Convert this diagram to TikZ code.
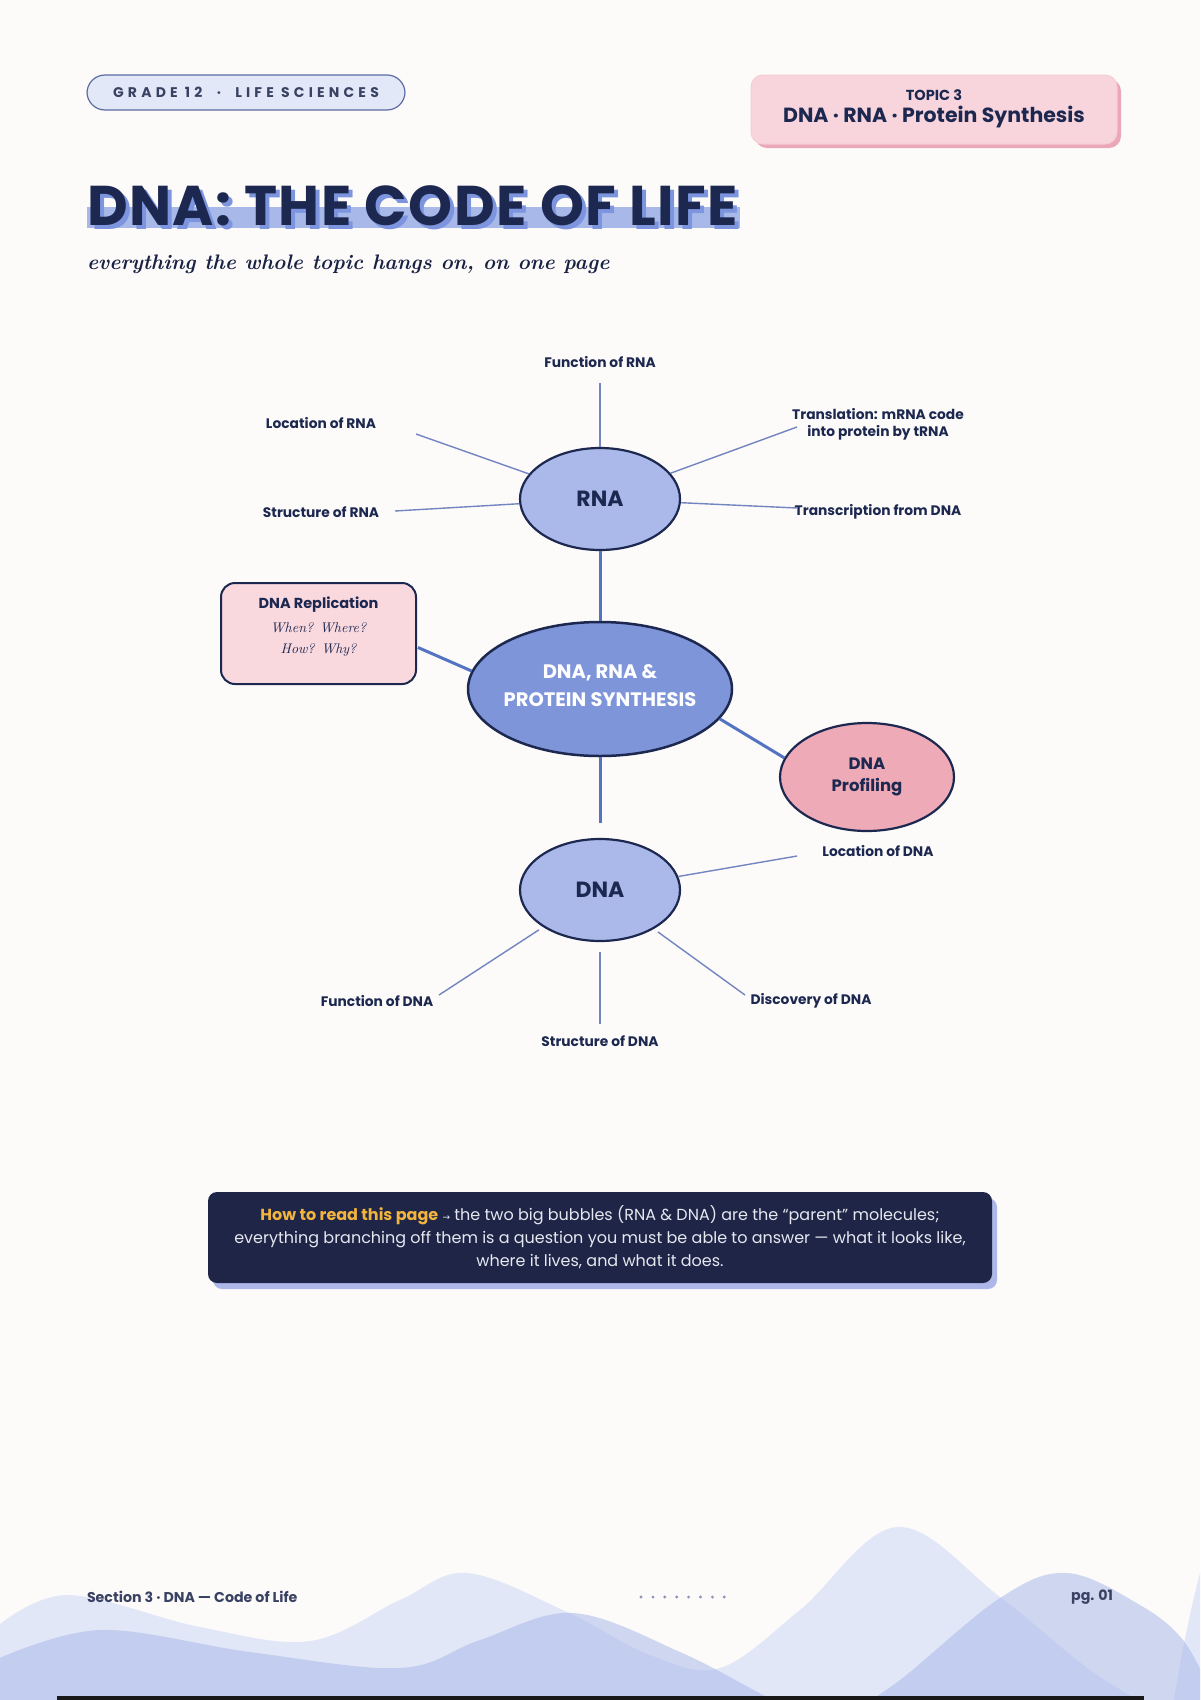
\documentclass[tikz,border=0pt]{standalone}
\usepackage{fontspec}
\setmainfont{Poppins}
\newfontfamily\scriptf{lmroman10-bolditalic.otf}
\newfontfamily\scriptr{lmroman10-italic.otf}
\newfontfamily\arrowf{DejaVu Sans}
\usetikzlibrary{shapes.geometric,calc}
\definecolor{bg}{HTML}{FCFBF9}
\definecolor{navy}{HTML}{1D2850}
\definecolor{ink}{HTML}{3A4263}
\definecolor{bubble}{HTML}{AAB9EA}
\definecolor{corefill}{HTML}{7F95D9}
\definecolor{proffill}{HTML}{EEAAB7}
\definecolor{replfill}{HTML}{F9D8DE}
\definecolor{link}{HTML}{5473C2}
\definecolor{spoke}{HTML}{7385C0}
\definecolor{pillfill}{HTML}{E3E8F8}
\definecolor{pillline}{HTML}{5D6BA3}
\definecolor{topicfill}{HTML}{F8D5DD}
\definecolor{topicshadow}{HTML}{E9A7B7}
\definecolor{titlebar}{HTML}{A8B8E9}
\definecolor{titleshadow}{HTML}{7C95DE}
\definecolor{howfill}{HTML}{1E2547}
\definecolor{howshadow}{HTML}{AEB8E8}
\definecolor{howkey}{HTML}{F2B43C}
\definecolor{howtext}{HTML}{E6E8F0}
\definecolor{wavelight}{HTML}{CAD5F7}
\definecolor{wavedark}{HTML}{ABB8E9}
\definecolor{dotc}{HTML}{8C95B9}
\newcommand\mytitle{DNA: THE CODE OF LIFE}
\begin{document}
\begin{tikzpicture}[x=1pt,y=-1pt,
  txt/.style={inner sep=0pt,outer sep=0pt},
  bubblenode/.style={ellipse,draw=navy,line width=2.2pt,fill=bubble,inner sep=0pt,
     minimum width=160pt,minimum height=102pt,text=navy,font=\bfseries\fontsize{22}{26}\selectfont},
  corenode/.style={ellipse,draw=navy,line width=2.5pt,fill=corefill,inner sep=0pt,
     minimum width=264pt,minimum height=134pt},
  coretext/.style={txt,text=white,align=center,font=\bfseries\fontsize{19.5}{28}\selectfont},
  profnode/.style={ellipse,draw=navy,line width=2.2pt,fill=proffill,inner sep=0pt,
     minimum width=174pt,minimum height=108pt},
  proftext/.style={txt,text=navy,align=center,font=\bfseries\fontsize{16.5}{22.5}\selectfont},
  replnode/.style={rectangle,rounded corners=14pt,draw=navy,line width=2pt,fill=replfill,inner sep=0pt,
     minimum width=195pt,minimum height=101pt},
  biglink/.style={draw=link,line width=3pt},
  spokeline/.style={draw=spoke,line width=1.4pt},
  lab/.style={txt,text=navy,align=center,font=\bfseries\fontsize{13.8}{17}\selectfont},
]
% page
\useasboundingbox (0,0) rectangle (1200,1700);
\fill[bg] (0,0) rectangle (1200,1700);

% waves
\begin{scope}
\clip (0,0) rectangle (1200,1700);
\fill[wavelight,opacity=0.5] (-5,1712) -- plot[smooth,tension=0.6] coordinates {(-5,1628) (67,1595) (200,1627) (310,1641) (400,1600) (467,1573) (567,1612) (650,1655) (720,1668) (800,1610) (897,1527) (1000,1597) (1090,1670) (1160,1712)} -- cycle;
\fill[wavelight,opacity=0.5] (1172,1712) .. controls (1182,1650) and (1192,1600) .. (1205,1555) -- (1205,1712) -- cycle;
\fill[wavedark,opacity=0.55] (-5,1712) -- plot[smooth,tension=0.6] coordinates {(-5,1660) (100,1630) (250,1652) (400,1668) (480,1640) (573,1613) (680,1652) (767,1697) (800,1712)} -- cycle;
\fill[wavedark,opacity=0.55] (850,1712) -- plot[smooth,tension=0.6] coordinates {(850,1712) (900,1680) (1000,1598) (1067,1573) (1140,1605) (1183,1640) (1210,1690)} -- (1210,1712) -- cycle;
\end{scope}
\fill[black!90] (57,1696) rectangle (1144,1700);

% header pill
\draw[pillline,fill=pillfill,line width=1.2pt,rounded corners=18pt] (87,75) rectangle (405,110);
\node[txt,text=ink,font=\bfseries\fontsize{14}{16}\selectfont\addfontfeature{LetterSpace=30}] (pill) at (246,92.5) {GRADE 12 \ · \ LIFE SCIENCES};

% topic box
\fill[topicshadow,rounded corners=12pt] (755,79) rectangle (1121,148);
\draw[topicfill!80!topicshadow,fill=topicfill,line width=1pt,rounded corners=12pt] (751,75) rectangle (1117,144);
\node[txt,text=navy,font=\bfseries\fontsize{14.5}{16}\selectfont] (topicA) at (934,95) {TOPIC 3};
\node[txt,text=navy,font=\bfseries\fontsize{20.5}{22}\selectfont] (topicB) at (934,117) {DNA · RNA · Protein Synthesis};

% title
\fill[titlebar] (87,207) rectangle (740,228);
\node[txt,anchor=base west,text=titleshadow,font=\bfseries\fontsize{56}{60}\selectfont\addfontfeature{LetterSpace=2.5}] (titleS) at (91,229) {\mytitle};
\node[txt,anchor=base west,text=navy,font=\bfseries\fontsize{56}{60}\selectfont\addfontfeature{LetterSpace=2.5}] (title) at (87,225) {\mytitle};
\node[txt,anchor=base west,text=navy!85!black,font=\scriptf\fontsize{21}{26}\selectfont] (subtitle) at (87,269) {everything the whole topic hangs on, on one page};

% main nodes
\node[bubblenode] (rna) at (600,499) {RNA};
\node[corenode] (core) at (600,689) {};
\node[coretext] (coreT) at (600,686) {DNA, RNA \&\\PROTEIN SYNTHESIS};
\node[bubblenode] (dna) at (600,890) {DNA};
\node[profnode] (prof) at (867,777) {};
\node[proftext] (profT) at (867,777) {DNA\\Profiling};
\node[replnode] (repl) at (318.5,633.5) {};
\node[txt,text=navy,font=\bfseries\fontsize{14.5}{16}\selectfont] (replT) at (318.5,605) {DNA Replication};
\node[txt,text=navy,align=center,font=\scriptr\fontsize{14}{21}\selectfont] (replQ) at (318.5,639) {When? Where?\\How? Why?};

% big links
\draw[biglink] (rna) -- (core);
\draw[biglink,shorten >=15pt] (core) -- (dna);
\draw[biglink] ($(repl.east)+(1,14)$) -- (core.172);
\draw[biglink] (core.-14) -- (prof.167);

% spoke ends
\coordinate (eFR) at (600,383);
\coordinate (eLR) at (416,434);
\coordinate (eTR) at (797,427);
\coordinate (eSR) at (395,511);
\coordinate (eXR) at (797,508);
\coordinate (eLD) at (797,856);
\coordinate (eFD) at (439,995);
\coordinate (eSD) at (600,1024);
\coordinate (eDD) at (745,995);

\draw[spokeline] (rna) -- (eFR);
\draw[spokeline] (rna) -- (eLR);
\draw[spokeline] (rna) -- (eTR);
\draw[spokeline] (rna) -- (eSR);
\draw[spokeline] (rna) -- (eXR);
\draw[spokeline] (dna) -- (eLD);
\draw[spokeline,shorten <=5pt] (dna) -- (eFD);
\draw[spokeline,shorten <=10pt] (dna) -- (eSD);
\draw[spokeline,shorten <=5pt] (dna) -- (eDD);

% spoke labels
\node[lab] (lFR) at (600,362) {Function of RNA};
\node[lab] (lLR) at (321,423) {Location of RNA};
\node[lab] (lTR) at (878,424) {Translation: mRNA code\\into protein by tRNA};
\node[lab] (lSR) at (321,512) {Structure of RNA};
\node[lab] (lXR) at (878,512) {Transcription from DNA};
\node[lab] (lLD) at (878,851) {Location of DNA};
\node[lab] (lFD) at (377,1001) {Function of DNA};
\node[lab] (lSD) at (600,1041) {Structure of DNA};
\node[lab] (lDD) at (811,1001) {Discovery of DNA};

% how-to box
\fill[howshadow,rounded corners=9pt] (213,1198) rectangle (997,1289);
\fill[howfill,rounded corners=9pt] (208,1192) rectangle (992,1283);
\node[txt,text=howtext,align=center,font=\fontsize{16}{23}\selectfont] (howto) at (600,1237.5)
 {{\bfseries\color{howkey}How to read this page} {\arrowf\fontsize{9}{10}\selectfont →} the two big bubbles (RNA \& DNA) are the “parent” molecules;\\
  everything branching off them is a question you must be able to answer — what it looks like,\\
  where it lives, and what it does.};

% footer
\node[txt,anchor=west,text=ink,font=\bfseries\fontsize{14.2}{16}\selectfont] (foot) at (87,1597) {Section 3 · DNA — Code of Life};
\node[txt,anchor=east,text=ink,font=\bfseries\fontsize{14.2}{16}\selectfont] (page) at (1113,1597) {pg. 01};
\foreach \i in {0,...,7} \fill[dotc] (641+11.9*\i,1597) circle (1.6pt);
\end{tikzpicture}
\end{document}
